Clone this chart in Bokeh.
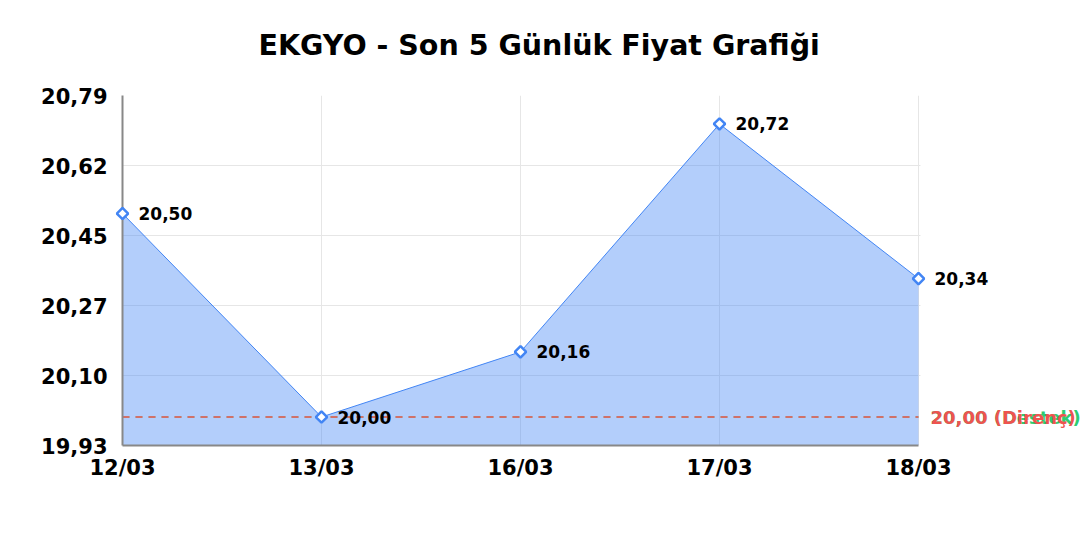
import math
from bokeh.plotting import figure
from bokeh.models import (
    ColumnDataSource, FixedTicker, CustomJSTickFormatter, BoxAnnotation, Label, Title
)
from bokeh.core.properties import value
from bokeh.embed import file_html
from bokeh.resources import INLINE

# Data
dates = ["12/03", "13/03", "16/03", "17/03", "18/03"]
prices = [20.50, 20.00, 20.16, 20.72, 20.34]
y_ticks = [19.93, 20.102, 20.274, 20.446, 20.618, 20.79]
levels = [20.00, 20.00]
level_names = ["Destek", "Direnç"]

FONT = "DejaVu Sans"
BLUE = "#4285f4"
RED = "#ef5350"
GREEN = "#2ecc71"
level_colors = [GREEN, RED]

idx = list(range(len(dates)))
last = len(dates) - 1
src = ColumnDataSource(dict(
    x=idx,
    y=prices,
    lbl=[f"{v:.2f}".replace(".", ",") for v in prices],
))

# frame runs to the right edge; the part past the last date is blanked out
# so the level labels have room
X_END = last * 958 / 796

p = figure(
    width=1080,
    height=540,
    x_range=(0, X_END),
    y_range=(y_ticks[0], y_ticks[-1]),
    output_backend="svg",
    toolbar_location=None,
    min_border_left=122,
    min_border_right=0,
    min_border_top=95,
    min_border_bottom=95,
)
p.outline_line_color = None

p.title.text = "EKGYO - Son 5 Günlük Fiyat Grafiği"
p.title.align = "left"
p.title.offset = 136
p.title.text_font = FONT
p.title.text_font_size = "28.5px"
p.title.text_font_style = "bold"
p.title.text_color = "black"
p.add_layout(Title(text=" ", text_font_size="16px"), "above")

# Axes
p.xaxis.ticker = FixedTicker(ticks=idx)
p.xaxis.major_label_overrides = {i: d for i, d in enumerate(dates)}
p.xaxis.bounds = (0, last)
p.yaxis.ticker = FixedTicker(ticks=y_ticks)
p.yaxis.formatter = CustomJSTickFormatter(code="return tick.toFixed(2).replace('.', ',')")
p.axis.major_label_text_font = FONT
p.axis.major_label_text_font_size = "21px"
p.axis.major_label_text_font_style = "bold"
p.axis.major_label_text_color = "black"
p.axis.major_tick_line_color = None
p.axis.minor_tick_line_color = None
p.axis.axis_line_color = "#888888"
p.axis.axis_line_width = 2
p.xaxis.major_label_standoff = 4
p.yaxis.major_label_standoff = 9
p.grid.grid_line_color = "#e6e6e6"
p.grid.grid_line_width = 1

# Area + line
p.varea(x="x", y1=y_ticks[0], y2="y", source=src, fill_color=BLUE, fill_alpha=0.4)
p.line(x="x", y="y", source=src, line_color=BLUE, line_width=1)

# Support / resistance lines (resistance drawn on top)
for lvl, col, lw in zip(levels, level_colors, [1, 1.6]):
    p.segment(x0=0, x1=last, y0=lvl, y1=lvl, line_color=col,
              line_width=lw, line_dash="7 6")

# blank out the grid past the last date
p.add_layout(BoxAnnotation(left=last + 0.01, fill_color="white", fill_alpha=1.0,
                           line_color=None))

for lvl, col, name in zip(levels, level_colors, level_names):
    p.add_layout(Label(
        x=last, y=lvl, x_offset=12,
        text=f"{lvl:.2f}".replace(".", ",") + f" ({name})",
        text_color=col, text_font=FONT, text_font_size="18px",
        text_font_style="bold", text_baseline="middle",
    ))

p.scatter(x="x", y="y", source=src, marker="square", angle=math.pi / 4, size=8,
          fill_color="white", line_color=BLUE, line_width=2.5, level="overlay")
p.text(x="x", y="y", text="lbl", source=src, x_offset=16, y_offset=0,
       text_font=value(FONT), text_font_size="17px", text_font_style="bold",
       text_baseline="middle", text_color="black", level="overlay")

open("out.html", "w").write(file_html(p, INLINE))
